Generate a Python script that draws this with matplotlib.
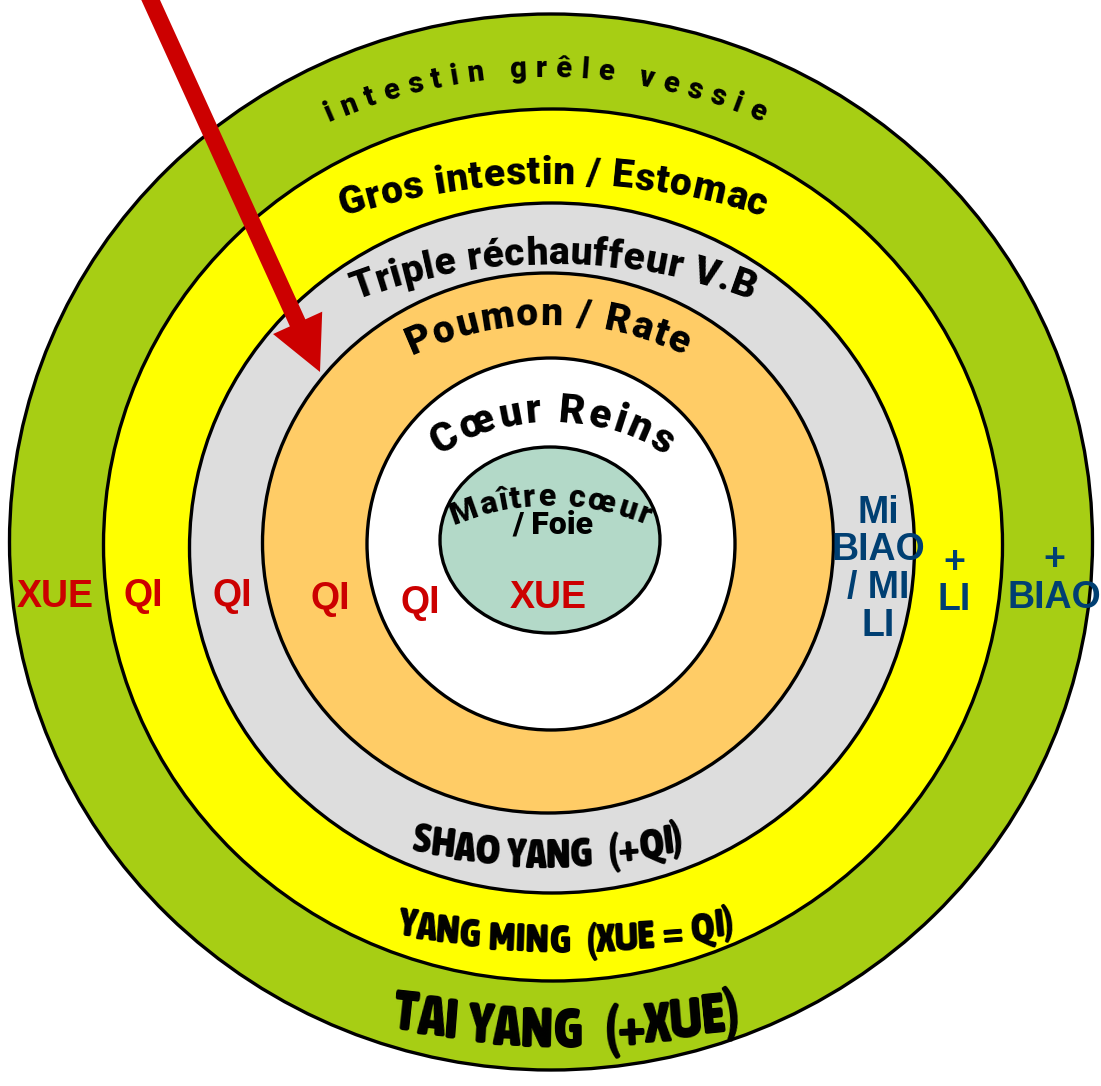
import numpy as np
import matplotlib
matplotlib.use("Agg")
import matplotlib.pyplot as plt
from matplotlib.patches import Ellipse, FancyArrow
from matplotlib import font_manager as fm

# ---- data: labels of the diagram ----
ring_colors = ["#A7CE14", "#FFFF00", "#DDDDDD", "#FFCC66", "#FFFFFF", "#B3D9C8"]
top_labels = ["intestin grêle vessie", "Gros intestin / Estomac",
              "Triple réchauffeur V.B", "Poumon / Rate", "Cœur Reins", "Maître cœur"]
inner_label = "/ Foie"
bottom_labels = ["SHAO YANG  (+QI)", "YANG MING  (XUE = QI)", "TAI YANG  (+XUE)"]
red_labels = ["XUE", "QI", "QI", "QI", "QI", "XUE"]
blue_labels = ["Mi\nBIAO\n/ MI\nLI", "+\nLI", "+\nBIAO"]

# ---- layout (pixels, y pointing down) ----
ring_cx = [551, 553, 552, 548, 551, 550]
ring_cy = [542, 545, 548, 543, 544, 540]
ring_w = [1083, 899, 725, 571, 368, 220]
ring_h = [1056, 872, 690, 540, 372, 186]

# top arcs: centre x, baseline y at the top, radius, font size, arc length
top_x = [545, 553, 553, 548, 552, 550]
top_y = [77, 184, 264, 325, 422, 506]
top_r = [540, 700, 560, 320, 210, 250]
top_size = [21, 28, 28, 28, 29, 23]
top_span = [445, 428, 405, 282, 240, 198]

# bottom arcs
bot_x = [548, 566, 566]
bot_y = [868, 953, 1048]
bot_r = [500, 750, 750]
bot_span = [275, 340, 350]

red_x = [55, 143, 232, 330, 420, 548]
red_y = [607, 606, 606, 609, 613, 608]
blue_x = [878, 954, 1054]
blue_y = [523, 573, 570]

W, H = 1101, 1086
fig = plt.figure(figsize=(W / 100, H / 100), dpi=100)
ax = fig.add_axes([0, 0, 1, 1])
ax.set_xlim(0, W)
ax.set_ylim(H, 0)
ax.axis("off")

for cx, cy, w, h, col in zip(ring_cx, ring_cy, ring_w, ring_h, ring_colors):
    ax.add_patch(Ellipse((cx, cy), w, h, facecolor=col, edgecolor="black", lw=2.4, zorder=1))

bold = fm.FontProperties(family="Liberation Sans", weight="bold")

fonts = fm.fontManager.ttflist


def wnum(f):
    w = f.weight
    if isinstance(w, str):
        w = fm.weight_dict.get(w, 400)
    return w


# heavy face for the arched titles (closest to Arial Black)
heavy = bold
for fam in ["Roboto", "Lato", "Inter", "Open Sans"]:
    if any(f.name == fam and wnum(f) >= 800 and f.style == "normal" for f in fonts):
        heavy = fm.FontProperties(family=fam, weight=900)
        break

# narrow, heavy face for the bottom titles
cands = [f for f in fonts if f.style == "normal" and
         ("Condensed" in f.name or "Narrow" in f.name or "condensed" in str(f.stretch))]
cands = [f for f in cands if wnum(f) >= 600] or cands
if cands:
    best = max(cands, key=wnum)
    narrow = fm.FontProperties(fname=best.fname)
else:
    narrow = bold

renderer = fig.canvas.get_renderer()


def char_w(c, fp):
    t1 = ax.text(0, 0, "x" + c + "x", fontproperties=fp)
    t2 = ax.text(0, 0, "xx", fontproperties=fp)
    w = t1.get_window_extent(renderer).width - t2.get_window_extent(renderer).width
    t1.remove()
    t2.remove()
    return w


def arc_text(s, xc, yb, r, fp, span=None, mode="track", smile=False, tilt=1.0,
             space=1.0, color="black"):
    widths = [char_w(c, fp) * (space if c == " " else 1) for c in s]
    track = 0
    if span is not None:
        if mode == "track":
            track = (span - sum(widths)) / (len(s) - 1)
        else:
            k = span / sum(widths)
            fp = fp.copy()
            fp.set_size(fp.get_size_in_points() * k)
            widths = [w * k for w in widths]
    total = sum(widths) + track * (len(s) - 1)
    pos = -total / 2
    for c, w in zip(s, widths):
        th = (pos + w / 2) / r
        x = xc + r * np.sin(th)
        if smile:
            y = yb - r + r * np.cos(th)
            rot = np.degrees(th) * tilt
        else:
            y = yb + r - r * np.cos(th)
            rot = -np.degrees(th) * tilt
        ax.text(x, y, c, fontproperties=fp, color=color, rotation=rot,
                rotation_mode="anchor", ha="center", va="baseline", zorder=3)
        pos += w + track


for s, x, y, r, sz, sp in zip(top_labels, top_x, top_y, top_r, top_size, top_span):
    fp = heavy.copy()
    fp.set_size(sz)
    arc_text(s, x, y, r, fp, span=sp)

fp = heavy.copy()
fp.set_size(23)
ax.text(553, 534, inner_label, fontproperties=fp, ha="center", va="baseline", zorder=3)

for s, x, y, r, sp in zip(bottom_labels, bot_x, bot_y, bot_r, bot_span):
    fp = narrow.copy()
    fp.set_size(10)
    arc_text(s, x, y, r, fp, span=sp, mode="scale", smile=True, tilt=0.5, space=1.5)

fp = bold.copy()
fp.set_size(27)
for s, x, y in zip(red_labels, red_x, red_y):
    ax.text(x, y, s, fontproperties=fp, color="#CC0000", ha="center", va="baseline", zorder=3)

for s, x, y in zip(blue_labels, blue_x, blue_y):
    for i, line in enumerate(s.split("\n")):
        ax.text(x, y + i * 37.5, line, fontproperties=fp, color="#003F72",
                ha="center", va="baseline", zorder=3)

# red arrow
x0, y0, x1, y1 = 147, -8, 320, 372
ax.add_patch(FancyArrow(x0, y0, x1 - x0, y1 - y0, width=17, head_width=54, head_length=54,
                        length_includes_head=True, color="#CC0000", lw=0, zorder=5))

fig.savefig("out.png", dpi=100)
